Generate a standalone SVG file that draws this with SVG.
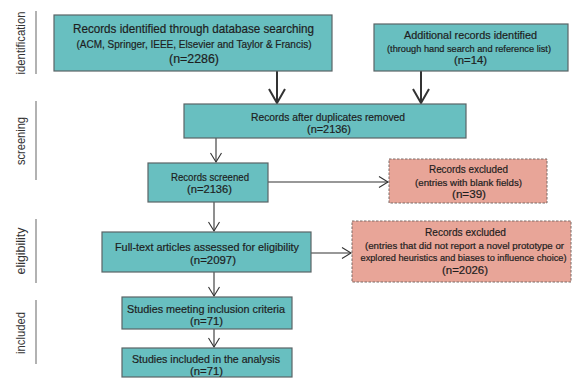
<svg xmlns="http://www.w3.org/2000/svg" width="573" height="381" viewBox="0 0 573 381">
<style>
.box{fill:#68bfc0;stroke:#5a6466;stroke-width:1.2}
.ex{fill:#e8a598;stroke:#7a6a66;stroke-width:1;stroke-dasharray:2.5,1.5}
text{font-family:"Liberation Sans",Arial,sans-serif;fill:#1e1e1e;text-anchor:middle;stroke:#1e1e1e;stroke-width:0.2}
.t{font-size:11.5px}
.s{font-size:9.5px}
.side{font-size:13.5px;fill:#333;stroke:none}
.sl{stroke:#999;stroke-width:1.5}
.c{stroke:#333;stroke-width:1.1;fill:none}
.cb{stroke:#333;stroke-width:2;fill:none}
</style>
<defs>
<marker id="ah" markerWidth="12" markerHeight="12" refX="10" refY="6" orient="auto" markerUnits="userSpaceOnUse"><path d="M1,0.5 L10,6 L1,11.5" fill="none" stroke="#333" stroke-width="1.1"/></marker>
<marker id="ahb" markerWidth="18" markerHeight="18" refX="15" refY="9" orient="auto" markerUnits="userSpaceOnUse"><path d="M1,1 L15,9 L1,17" fill="none" stroke="#333" stroke-width="2"/></marker>
</defs>
<g id="phases">
<line class="sl" x1="36" y1="11" x2="36" y2="74"/>
<text class="side" transform="translate(25,43) rotate(-90)" textLength="63" lengthAdjust="spacingAndGlyphs">identification</text>
<line class="sl" x1="36" y1="101" x2="36" y2="180"/>
<text class="side" transform="translate(25,141) rotate(-90)" textLength="48" lengthAdjust="spacingAndGlyphs">screening</text>
<line class="sl" x1="36" y1="219" x2="36" y2="283"/>
<text class="side" transform="translate(25,251) rotate(-90)" textLength="47" lengthAdjust="spacingAndGlyphs">eligibility</text>
<line class="sl" x1="36" y1="300" x2="36" y2="364"/>
<text class="side" transform="translate(25,333) rotate(-90)" textLength="42" lengthAdjust="spacingAndGlyphs">included</text>
</g>
<g id="connectors">
<line class="cb" x1="277" y1="71" x2="277" y2="103" marker-end="url(#ahb)"/>
<line class="cb" x1="421" y1="71" x2="421" y2="103" marker-end="url(#ahb)"/>
<line class="c" x1="216" y1="138" x2="216" y2="162" marker-end="url(#ah)"/>
<line class="c" x1="214" y1="202" x2="214" y2="231" marker-end="url(#ah)"/>
<line class="c" x1="214" y1="272" x2="214" y2="296" marker-end="url(#ah)"/>
<line class="c" x1="214" y1="329" x2="214" y2="347" marker-end="url(#ah)"/>
<line class="c" x1="268" y1="182" x2="388" y2="182" marker-end="url(#ah)"/>
<line class="c" x1="311" y1="253" x2="351" y2="253" marker-end="url(#ah)"/>
</g>
<g id="db-search">
<rect class="box" x="54" y="15" width="278" height="56"/>
<text class="t" x="193.5" y="33" style="font-size:13px" textLength="241" lengthAdjust="spacingAndGlyphs">Records identified through database searching</text>
<text class="t" x="194" y="47.5" style="font-size:11px" textLength="235" lengthAdjust="spacingAndGlyphs">(ACM, Springer, IEEE, Elsevier and Taylor &amp; Francis)</text>
<text class="t" x="194" y="63" style="font-size:13px" textLength="50" lengthAdjust="spacingAndGlyphs">(n=2286)</text>
</g>
<g id="additional">
<rect class="box" x="374" y="24" width="194" height="47"/>
<text class="t" x="470.5" y="39" style="font-size:11px" textLength="133" lengthAdjust="spacingAndGlyphs">Additional records identified</text>
<text class="s" x="469" y="52" textLength="164" lengthAdjust="spacingAndGlyphs">(through hand search and reference list)</text>
<text class="t" x="470.5" y="63.5" style="font-size:11px" textLength="33" lengthAdjust="spacingAndGlyphs">(n=14)</text>
</g>
<g id="duplicates">
<rect class="box" x="184" y="104" width="282" height="34"/>
<text class="t" x="328" y="121" textLength="154" lengthAdjust="spacingAndGlyphs">Records after duplicates removed</text>
<text class="t" x="329" y="133" textLength="44" lengthAdjust="spacingAndGlyphs">(n=2136)</text>
</g>
<g id="screened">
<rect class="box" x="148" y="163" width="120" height="39"/>
<text class="t" x="210" y="180.5" textLength="78" lengthAdjust="spacingAndGlyphs">Records screened</text>
<text class="t" x="209.5" y="193" textLength="45" lengthAdjust="spacingAndGlyphs">(n=2136)</text>
</g>
<g id="excluded1">
<rect class="ex" x="389" y="159" width="158" height="44"/>
<text class="t" x="468.5" y="173" textLength="79" lengthAdjust="spacingAndGlyphs">Records excluded</text>
<text class="s" x="468.5" y="186" textLength="107" lengthAdjust="spacingAndGlyphs">(entries with blank fields)</text>
<text class="t" x="469" y="197.5" style="font-size:11px" textLength="34" lengthAdjust="spacingAndGlyphs">(n=39)</text>
</g>
<g id="fulltext">
<rect class="box" x="102" y="232" width="209" height="40"/>
<text class="t" x="207" y="251" textLength="184" lengthAdjust="spacingAndGlyphs">Full-text articles assessed for eligibility</text>
<text class="t" x="213" y="263.5" textLength="46" lengthAdjust="spacingAndGlyphs">(n=2097)</text>
</g>
<g id="excluded2">
<rect class="ex" x="352" y="221" width="219" height="61"/>
<text class="t" x="465.5" y="236" textLength="81" lengthAdjust="spacingAndGlyphs">Records excluded</text>
<text class="s" x="464.5" y="249" textLength="199" lengthAdjust="spacingAndGlyphs">(entries that did not report a novel prototype or</text>
<text class="s" x="463.5" y="261" textLength="206" lengthAdjust="spacingAndGlyphs">explored heuristics and biases to influence choice)</text>
<text class="t" x="465" y="273.5" textLength="46" lengthAdjust="spacingAndGlyphs">(n=2026)</text>
</g>
<g id="meeting">
<rect class="box" x="122" y="297" width="170" height="32"/>
<text class="t" x="206" y="313" textLength="158" lengthAdjust="spacingAndGlyphs">Studies meeting inclusion criteria</text>
<text class="t" x="206.5" y="325" textLength="33" lengthAdjust="spacingAndGlyphs">(n=71)</text>
</g>
<g id="included">
<rect class="box" x="122" y="348" width="170" height="29"/>
<text class="t" x="206" y="362.5" textLength="148" lengthAdjust="spacingAndGlyphs">Studies included in the analysis</text>
<text class="t" x="206.5" y="375" textLength="33" lengthAdjust="spacingAndGlyphs">(n=71)</text>
</g>
</svg>
